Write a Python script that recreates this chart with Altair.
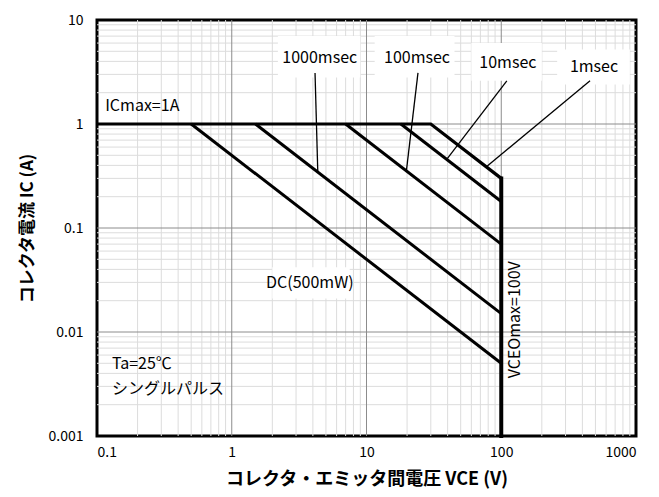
import altair as alt
import pandas as pd

# ---- data ----
x_decades = [0.1, 1, 10, 100, 1000]
y_decades = [0.001, 0.01, 0.1, 1, 10]
x_minor = [0.2, 0.3, 0.4, 0.5, 0.6, 0.7, 0.8, 0.9,
           2, 3, 4, 5, 6, 7, 8, 9,
           20, 30, 40, 50, 60, 70, 80, 90,
           200, 300, 400, 500, 600, 700, 800, 900]
y_minor = [0.002, 0.003, 0.004, 0.005, 0.006, 0.007, 0.008, 0.009,
           0.02, 0.03, 0.04, 0.05, 0.06, 0.07, 0.08, 0.09,
           0.2, 0.3, 0.4, 0.5, 0.6, 0.7, 0.8, 0.9,
           2, 3, 4, 5, 6, 7, 8, 9]
x_major_inner = [1, 10, 100]
y_major_inner = [0.01, 0.1, 1]

# SOA lines (start at IC=1A, end at VCE=100V)
line_names = ["DC", "1000msec", "100msec", "10msec"]
line_x_start = [0.5, 1.5, 7, 18]
line_y_start = [1, 1, 1, 1]
line_x_end = [100, 100, 100, 100]
line_y_end = [0.005, 0.015, 0.07, 0.18]

# envelope: ICmax -> 1msec -> VCEOmax
env_x = [0.1, 30, 100]
env_y = [1, 1, 0.3]
vce_x = [100, 100]
vce_y = [0.3, 0.001]

# leader lines
lead_x1 = [4.15, 24.1, 110, 456]
lead_y1 = [3.1, 3.1, 2.6, 2.6]
lead_x2 = [4.35, 19.8, 39.5, 78]
lead_y2 = [0.345, 0.36, 0.46, 0.39]

# labels
lab_text = ["1000msec", "100msec", "10msec", "1msec", "DC(500mW)"]
lab_x = [4.5, 23.7, 112, 488, 3.8]
lab_y = [4.3, 4.3, 3.9, 3.5, 0.0294]
ic_text = ["ICmax=1A"]
ic_x = [0.115]
ic_y = [1.5]
# white boxes behind labels
box_x1 = [2.2, 11.5, 60, 260, 2.0]
box_x2 = [9.0, 45, 200, 900, 7.5]
box_y1 = [2.8, 2.8, 2.6, 2.4, 0.021]
box_y2 = [7.0, 7.0, 6.0, 5.2, 0.042]

note_text = ["Ta=25℃", "シングルパルス"]
note_x = [0.129, 0.129]
note_y = [0.0049, 0.00285]

FONT = "Noto Sans CJK JP"

xs = alt.Scale(type="log", domain=[0.1, 1000], nice=False)
ys = alt.Scale(type="log", domain=[0.001, 10], nice=False)

# ---- grid ----
gx_minor = alt.Chart(pd.DataFrame({"x": x_minor})).mark_rule(color="#dcdcdc", strokeWidth=1).encode(
    x=alt.X("x:Q", scale=xs))
gy_minor = alt.Chart(pd.DataFrame({"y": y_minor})).mark_rule(color="#dcdcdc", strokeWidth=1).encode(
    y=alt.Y("y:Q", scale=ys))
gx_major = alt.Chart(pd.DataFrame({"x": x_major_inner})).mark_rule(color="#8c8c8c", strokeWidth=1).encode(
    x=alt.X("x:Q", scale=xs))
gy_major = alt.Chart(pd.DataFrame({"y": y_major_inner})).mark_rule(color="#8c8c8c", strokeWidth=1).encode(
    y=alt.Y("y:Q", scale=ys))

# ---- white label boxes ----
boxes = alt.Chart(pd.DataFrame({"x1": box_x1, "x2": box_x2, "y1": box_y1, "y2": box_y2})).mark_rect(
    color="white").encode(x=alt.X("x1:Q", scale=xs), x2="x2:Q", y=alt.Y("y1:Q", scale=ys), y2="y2:Q")

# ---- SOA lines ----
rows = []
for n, xa, ya, xb, yb in zip(line_names, line_x_start, line_y_start, line_x_end, line_y_end):
    rows.append({"s": n, "o": 0, "x": xa, "y": ya})
    rows.append({"s": n, "o": 1, "x": xb, "y": yb})
soa = alt.Chart(pd.DataFrame(rows)).mark_line(color="black", strokeWidth=3).encode(
    x=alt.X("x:Q", scale=xs), y=alt.Y("y:Q", scale=ys), detail="s:N", order="o:Q")

env = alt.Chart(pd.DataFrame({"x": env_x, "y": env_y, "o": [0, 1, 2]})).mark_line(
    color="black", strokeWidth=3.2).encode(
    x=alt.X("x:Q", scale=xs), y=alt.Y("y:Q", scale=ys), order="o:Q")
vce = alt.Chart(pd.DataFrame({"x": vce_x, "y": vce_y, "o": [0, 1]})).mark_line(
    color="black", strokeWidth=4, strokeCap="square").encode(
    x=alt.X("x:Q", scale=xs), y=alt.Y("y:Q", scale=ys), order="o:Q")

lead = alt.Chart(pd.DataFrame({"x": lead_x1, "x2": lead_x2, "y": lead_y1, "y2": lead_y2})).mark_rule(
    color="black", strokeWidth=1.3).encode(
    x=alt.X("x:Q", scale=xs), x2="x2:Q", y=alt.Y("y:Q", scale=ys), y2="y2:Q")

labels = alt.Chart(pd.DataFrame({"t": lab_text, "x": lab_x, "y": lab_y})).mark_text(
    font=FONT, fontSize=16, color="black", align="center", baseline="middle").encode(
    x=alt.X("x:Q", scale=xs), y=alt.Y("y:Q", scale=ys), text="t:N")

iclabel = alt.Chart(pd.DataFrame({"t": ic_text, "x": ic_x, "y": ic_y})).mark_text(
    font=FONT, fontSize=16, color="black", align="left", baseline="middle").encode(
    x=alt.X("x:Q", scale=xs), y=alt.Y("y:Q", scale=ys), text="t:N")

notes = alt.Chart(pd.DataFrame({"t": note_text, "x": note_x, "y": note_y})).mark_text(
    font=FONT, fontSize=16, color="black", align="left", baseline="middle").encode(
    x=alt.X("x:Q", scale=xs), y=alt.Y("y:Q", scale=ys), text="t:N")

vlabel = alt.Chart(pd.DataFrame({"t": ["VCEOmax=100V"], "x": [126], "y": [0.0131]})).mark_text(
    font=FONT, fontSize=16, color="black", angle=270, align="center", baseline="middle").encode(
    x=alt.X("x:Q", scale=xs), y=alt.Y("y:Q", scale=ys), text="t:N")

# axes carrier
axes = alt.Chart(pd.DataFrame({"x": [0.1], "y": [0.001]})).mark_point(opacity=0).encode(
    x=alt.X("x:Q", scale=xs, axis=alt.Axis(values=x_decades, format="~g", grid=False, ticks=False,
                                           domain=False, labelPadding=9,
                                           title="コレクタ・エミッタ間電圧 VCE (V)", titlePadding=11,
                                           titleFontSize=18)),
    y=alt.Y("y:Q", scale=ys, axis=alt.Axis(values=y_decades, format="~g", grid=False, ticks=False,
                                           domain=False, labelPadding=14,
                                           title="コレクタ電流 IC (A)", titlePadding=12,
                                           titleFontSize=17)))

chart = alt.layer(gx_minor, gy_minor, gx_major, gy_major, boxes, soa, env, vce, lead,
                  labels, iclabel, notes, vlabel, axes).properties(
    width=539, height=416, autosize="none", background="white",
    padding={"left": 89, "top": 12, "right": 15, "bottom": 53},
).configure_view(stroke="black", strokeWidth=3).configure_axis(
    labelFont=FONT, labelFontSize=14, labelColor="black",
    titleFont=FONT, titleFontWeight="bold", titleColor="black",
)

chart.save("out.html", embed_options={"renderer": "svg", "actions": False})
